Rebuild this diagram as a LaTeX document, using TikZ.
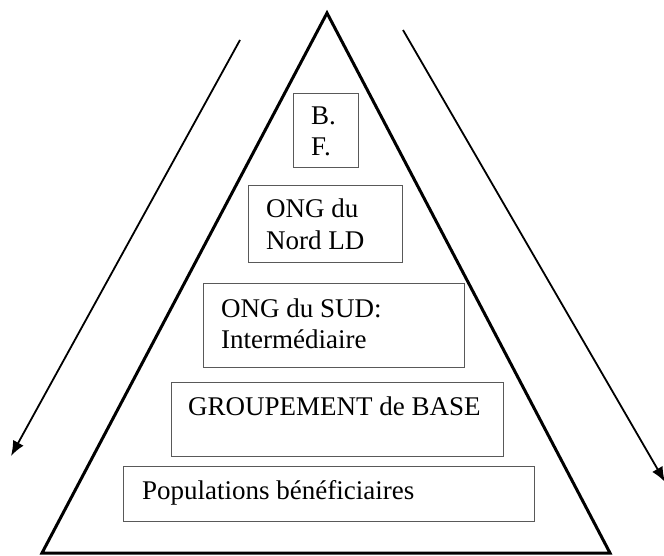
\documentclass[tikz,border=0pt]{standalone}
\usepackage{fontspec}
\setmainfont{Liberation Serif}
\usetikzlibrary{arrows.meta}
\begin{document}
\begin{tikzpicture}[x=1pt,y=-1pt,
  box/.style={draw=black!65,line width=1.4pt,rectangle,inner sep=0pt,anchor=north west},
  lbl/.style={anchor=base west,inner sep=0pt,font=\fontsize{27}{31}\selectfont},
  flow/.style={line width=1.8pt,-{Latex[length=15pt,width=12pt]}}]
\useasboundingbox (0,0) rectangle (664,556);
% triangle
\coordinate (apex) at (327,13);
\coordinate (bl) at (42,553);
\coordinate (br) at (610,553);
\draw[line width=3pt,line join=miter] (apex) -- (bl) -- (br) -- cycle;
% arrows
\coordinate (la) at (240,40);
\coordinate (lb) at (11,456);
\coordinate (ra) at (403,30);
\coordinate (rb) at (665,482);
\draw[flow] (la) -- (lb);
\draw[flow] (ra) -- (rb);
% boxes
\node[box,minimum width=65pt,minimum height=74pt] (bf) at (293,93) {};
\node[box,minimum width=154pt,minimum height=77pt] (nord) at (248,185) {};
\node[box,minimum width=261pt,minimum height=84pt] (sud) at (203,283) {};
\node[box,minimum width=332pt,minimum height=74pt] (grp) at (171,382) {};
\node[box,minimum width=411pt,minimum height=55pt] (pop) at (123,466) {};
% texts
\node[lbl] (bf1) at (311,125) {B.};
\node[lbl] (bf2) at (311,156) {F.};
\node[lbl] (nord1) at (266,218) {ONG du};
\node[lbl] (nord2) at (266,250) {Nord LD};
\node[lbl] (sud1) at (221,317) {ONG du SUD:};
\node[lbl] (sud2) at (221,348) {Intermédiaire};
\node[lbl] (grp1) at (188,415) {GROUPEMENT de BASE};
\node[lbl] (pop1) at (142,499) {Populations bénéficiaires};
\end{tikzpicture}
\end{document}
